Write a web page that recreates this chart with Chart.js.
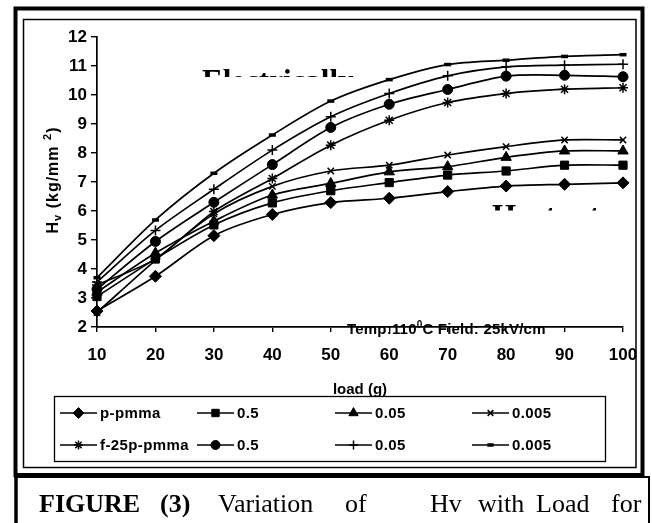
<!DOCTYPE html>
<html><head><meta charset="utf-8">
<script src="https://cdn.jsdelivr.net/npm/chart.js@4.4.0/dist/chart.umd.min.js"></script>
<style>html,body{margin:0;padding:0;background:#fff;}canvas{display:block;}</style>
</head><body>
<canvas id="c" width="652" height="523"></canvas>
<script>
// ---- data ----
const loads = [10, 20, 30, 40, 50, 60, 70, 80, 90, 100];
const xTickValues = [10, 20, 30, 40, 50, 60, 70, 80, 90, 100];
const yTickValues = [2, 3, 4, 5, 6, 7, 8, 9, 10, 11, 12];
const seriesNames = ['p-pmma', '0.5', '0.05', '0.005', 'f-25p-pmma', '0.5', '0.05', '0.005'];
const pPmma    = [2.55, 3.75, 5.15, 5.88, 6.29, 6.44, 6.67, 6.86, 6.92, 6.97];
const p05      = [3.05, 4.35, 5.52, 6.28, 6.70, 6.98, 7.24, 7.38, 7.58, 7.58];
const p005     = [3.20, 4.55, 5.65, 6.55, 6.95, 7.35, 7.53, 7.85, 8.07, 8.07];
const p0005    = [2.50, 4.30, 5.90, 6.85, 7.38, 7.58, 7.93, 8.22, 8.45, 8.45];
const f25Pmma  = [3.45, 4.35, 5.98, 7.12, 8.27, 9.13, 9.74, 10.05, 10.20, 10.25];
const f05      = [3.30, 4.95, 6.30, 7.60, 8.88, 9.68, 10.19, 10.65, 10.68, 10.63];
const f005     = [3.55, 5.33, 6.75, 8.10, 9.25, 10.05, 10.66, 10.97, 11.03, 11.06];
const f0005    = [3.70, 5.69, 7.30, 8.62, 9.79, 10.53, 11.05, 11.20, 11.33, 11.39];
const allSeries = [pPmma, p05, p005, p0005, f25Pmma, f05, f005, f0005];

// ---- styles ----
const markerStyles = ['rectRot', 'rect', 'triangle', 'crossRot', 'star', 'circle', 'cross', 'line'];
const markerRadii  = [6, 5.8, 6, 4.5, 5, 5, 5, 3.5];
const markerBorder = [1, 1, 1, 1.5, 1.5, 1, 1.5, 3.5];
const SANS = "'Liberation Sans', Arial, sans-serif";
const SERIF = "'Liberation Serif', 'Times New Roman', serif";

const datasets = allSeries.map((vals, i) => ({
  label: seriesNames[i],
  data: loads.map((x, j) => ({ x: x, y: vals[j] })),
  borderColor: '#000',
  backgroundColor: '#000',
  borderWidth: 1.7,
  pointStyle: markerStyles[i],
  pointRadius: markerRadii[i],
  pointBorderWidth: markerBorder[i],
  pointBackgroundColor: '#000',
  pointBorderColor: '#000',
  tension: 0.3,
  fill: false,
  clip: false
}));

function drawRich(ctx, parts, x, y, align) {
  let total = 0;
  parts.forEach(p => { ctx.font = p.font; total += ctx.measureText(p.t).width; });
  let cx = align === 'center' ? x - total / 2 : x;
  ctx.textAlign = 'left';
  parts.forEach(p => {
    ctx.font = p.font;
    ctx.fillText(p.t, cx, y + (p.dy || 0));
    cx += ctx.measureText(p.t).width;
  });
}

const decor = {
  id: 'decor',
  beforeDraw(chart) {
    const ctx = chart.ctx;
    ctx.save();
    ctx.fillStyle = '#fff';
    ctx.fillRect(0, 0, chart.width, chart.height);
    ctx.restore();
  },
  beforeDatasetsDraw(chart) {
    const ctx = chart.ctx;
    ctx.save();
    ctx.fillStyle = '#000';
    ctx.font = 'bold 31px ' + SERIF;
    ctx.textBaseline = 'alphabetic';
    ctx.textAlign = 'left';
    ctx.save();
    ctx.beginPath(); ctx.rect(150, 69, 250, 8); ctx.clip();
    ctx.fillText('Electrically', 202, 91);
    ctx.restore();
    ctx.save();
    ctx.beginPath(); ctx.rect(470, 204, 160, 6.5); ctx.clip();
    ctx.fillText('Heat set', 492, 225.5);
    ctx.restore();
    ctx.restore();
  },
  afterDraw(chart) {
    const ctx = chart.ctx;
    ctx.save();
    ctx.fillStyle = '#000';
    ctx.strokeStyle = '#000';
    // frames
    ctx.lineWidth = 4;
    ctx.strokeRect(15.5, 8.5, 627, 466.5);
    ctx.lineWidth = 1.5;
    ctx.strokeRect(23.5, 19.5, 612.5, 448);
    // caption box
    ctx.lineWidth = 3.5;
    ctx.beginPath(); ctx.moveTo(16, 476); ctx.lineTo(16, 523); ctx.stroke();
    ctx.lineWidth = 2;
    ctx.beginPath(); ctx.moveTo(14, 477); ctx.lineTo(650, 477); ctx.stroke();
    ctx.beginPath(); ctx.moveTo(649, 476); ctx.lineTo(649, 523); ctx.stroke();

    ctx.textBaseline = 'alphabetic';
    // y axis title
    ctx.save();
    ctx.translate(58, 180);
    ctx.rotate(-Math.PI / 2);
    ctx.letterSpacing = '1px';
    drawRich(ctx, [
      { t: 'H', font: 'bold 16px ' + SANS },
      { t: 'v', font: 'bold 11px ' + SANS, dy: 3 },
      { t: ' (kg/mm ', font: 'bold 16px ' + SANS },
      { t: '2', font: 'bold 11px ' + SANS, dy: -7 },
      { t: ')', font: 'bold 16px ' + SANS }
    ], 0, 0, 'center');
    ctx.restore();

    // x axis title
    ctx.font = 'bold 15px ' + SANS;
    ctx.textAlign = 'center';
    ctx.fillText('load (g)', 360, 394);

    // condition text
    ctx.letterSpacing = '0.2px';
    drawRich(ctx, [
      { t: 'Temp:110', font: 'bold 15px ' + SANS },
      { t: '0', font: 'bold 10px ' + SANS, dy: -6 },
      { t: 'C Field: 25kV/cm', font: 'bold 15px ' + SANS }
    ], 347, 334, 'left');
    ctx.letterSpacing = '0px';

    // legend
    ctx.lineWidth = 1.3;
    ctx.strokeRect(54.5, 396.5, 551, 65);
    const cols = [60, 197, 335, 472];
    const rows = [413, 445];
    ctx.font = 'bold 15px ' + SANS;
    ctx.letterSpacing = '0.4px';
    ctx.textBaseline = 'middle';
    ctx.textAlign = 'left';
    chart.data.datasets.forEach((ds, i) => {
      const cx = cols[i % 4], cy = rows[Math.floor(i / 4)];
      ctx.lineWidth = 1.6;
      ctx.beginPath(); ctx.moveTo(cx, cy); ctx.lineTo(cx + 37, cy); ctx.stroke();
      if (Chart.helpers && Chart.helpers.drawPoint) {
        ctx.lineWidth = ds.pointBorderWidth;
        Chart.helpers.drawPoint(ctx, { pointStyle: ds.pointStyle, radius: ds.pointRadius * 0.9, rotation: 0, borderWidth: ds.pointBorderWidth }, cx + 18.5, cy);
      }
      ctx.fillText(ds.label, cx + 40, cy + 1);
    });
    ctx.letterSpacing = '0px';

    // caption
    ctx.textBaseline = 'alphabetic';
    const capWords = [['FIGURE', 39, true], ['(3)', 160, true], ['Variation', 218, false], ['of', 345, false],
                      ['Hv', 430, false], ['with', 478, false], ['Load', 536, false], ['for', 611, false]];
    capWords.forEach(w => {
      ctx.font = (w[2] ? 'bold ' : '') + '26px ' + SERIF;
      ctx.fillText(w[0], w[1], 512);
    });
    ctx.restore();
  }
};

new Chart(document.getElementById('c'), {
  type: 'line',
  data: { datasets: datasets },
  plugins: [decor],
  options: {
    responsive: false,
    animation: false,
    devicePixelRatio: 1,
    layout: { padding: { left: 0, right: 29, top: 37, bottom: 0 } },
    plugins: { legend: { display: false }, tooltip: { enabled: false } },
    scales: {
      x: {
        type: 'linear', min: 10, max: 100,
        afterBuildTicks: s => { s.ticks = xTickValues.map(v => ({ value: v })); },
        afterFit: s => { s.height = 523 - 327; },
        grid: { drawOnChartArea: false, drawTicks: true, tickLength: 5, color: '#000', lineWidth: 1.4 },
        border: { display: true, color: '#000', width: 1.7 },
        ticks: { color: '#000', padding: 13, maxRotation: 0, autoSkip: false, font: { family: SANS, size: 17, weight: 'bold' } }
      },
      y: {
        type: 'linear', min: 2, max: 12,
        afterBuildTicks: s => { s.ticks = yTickValues.map(v => ({ value: v })); },
        afterFit: s => { s.width = 97; },
        grid: { drawOnChartArea: false, drawTicks: true, tickLength: 6, color: '#000', lineWidth: 1.4 },
        border: { display: true, color: '#000', width: 1.7 },
        ticks: { color: '#000', padding: 4, autoSkip: false, font: { family: SANS, size: 17, weight: 'bold' } }
      }
    }
  }
});
</script>
</body></html>
